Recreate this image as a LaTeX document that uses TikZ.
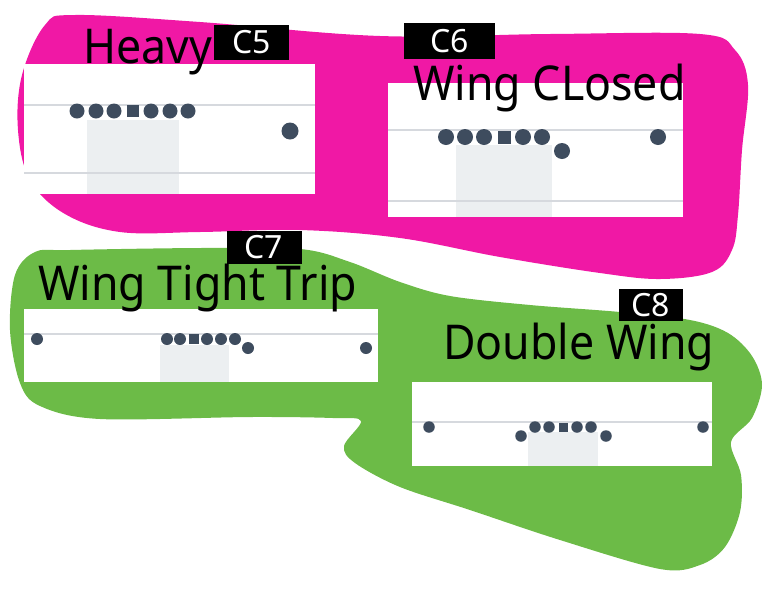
\documentclass[tikz,border=0pt]{standalone}
\usepackage{fontspec}
\setmainfont{Noto Sans}
\newfontfamily\titlefont[FakeStretch=0.93]{Noto Sans}
\definecolor{pinkc}{HTML}{F018A5}
\definecolor{greenc}{HTML}{6CBB47}
\definecolor{dotc}{HTML}{3E4C5E}
\definecolor{linec}{HTML}{D6D9DE}
\definecolor{boxc}{HTML}{ECEFF1}
\tikzset{
  player/.style={circle,fill=dotc,inner sep=0pt,minimum size=#1},
  center/.style={rectangle,fill=dotc,inner sep=0pt,minimum size=#1},
  title/.style={anchor=base west,inner sep=0pt,font=\titlefont\fontsize{48}{50}\selectfont},
  tag/.style={fill=black,text=white,inner sep=0pt,font=\fontsize{32}{34}\selectfont},
  yard/.style={draw=linec,line width=2pt}
}
\begin{document}
\begin{tikzpicture}[x=1pt,y=-1pt]
\useasboundingbox (0,0) rectangle (770,595);

% pink and green areas
\fill [pinkc] plot [smooth cycle,tension=0.6] coordinates {(75,15) (200,22) (380,36) (550,34) (700,34) (735,50) (748,85) (742,150) (738,215) (732,250) (712,272) (660,279) (600,273) (500,257) (400,238) (300,230) (200,232) (120,232) (65,214) (30,180) (18,130) (22,75) (45,25)};
\fill [greenc] plot [smooth cycle,tension=0.55] coordinates {(35,252) (70,250) (200,248) (300,249) (350,262) (400,282) (450,296) (530,305) (620,312) (690,320) (728,333) (752,356) (762,385) (752,418) (731,442) (741,475) (740,512) (725,547) (700,565) (660,569) (560,540) (470,510) (400,487) (355,463) (344,446) (361,421) (333,418) (250,417) (100,419) (40,406) (20,383) (10,330) (15,275)};

% Heavy
\fill [white] (24,64) rectangle (315,194);
\fill [boxc] (87,120) rectangle (179,194);
\draw [yard] (24,105) -- (315,105);
\draw [yard] (24,173) -- (315,173);
\foreach \x [count=\i] in {77,96,114,151,170,188}
  \node [player=15pt] (h\i) at (\x,111) {};
\node [center=12pt] (hc) at (133,111) {};
\node [player=17pt] (hr) at (290,131) {};
\node [title] (heavy) at (83,63) {Heavy};
\node [tag,minimum width=75pt,minimum height=35pt] (c5) at (251.5,42.5) {C5};

% Wing CLosed
\fill [white] (388,83) rectangle (683,217);
\fill [boxc] (456,145) rectangle (552,217);
\draw [yard] (388,130) -- (683,130);
\draw [yard] (388,201) -- (683,201);
\foreach \x [count=\i] in {446,465,484,523,542}
  \node [player=16pt] (w\i) at (\x,137) {};
\node [center=13pt] (wc) at (504,137) {};
\node [player=16pt] (wt) at (562,151) {};
\node [player=16pt] (wr) at (658,137) {};
\node [title] (closed) at (413,100) {Wing CLosed};
\node [tag,minimum width=91pt,minimum height=36pt] (c6) at (449.5,41) {C6\hspace{10pt}};

% Wing Tight Trip
\fill [white] (24,309) rectangle (378,382);
\fill [boxc] (160,345) rectangle (229,382);
\draw [yard] (24,334) -- (378,334);
\foreach \x [count=\i] in {167,180,207,221,235}
  \node [player=12pt] (t\i) at (\x,339) {};
\node [center=10pt] (tc) at (194,339) {};
\node [player=12pt] (tl) at (37,339) {};
\node [player=12pt] (tt) at (248,348) {};
\node [player=12pt] (tr) at (366,348) {};
\node [title] (tight) at (38,300) {Wing Tight Trip};
\node [tag,minimum width=75pt,minimum height=33pt] (c7) at (264,247) {C7};

% Double Wing
\fill [white] (412,382) rectangle (712,466);
\fill [boxc] (528,432) rectangle (598,466);
\draw [yard] (412,422) -- (712,422);
\foreach \x [count=\i] in {535,549,577,591}
  \node [player=11.5pt] (d\i) at (\x,427) {};
\node [center=9pt] (dc) at (563,427) {};
\node [player=11.5pt] (dl) at (429,427) {};
\node [player=11.5pt] (dtl) at (521,436) {};
\node [player=11.5pt] (dtr) at (606,436) {};
\node [player=11.5pt] (dr) at (703,427) {};
\node [title] (double) at (443,359) {Double Wing};
\node [tag,minimum width=64pt,minimum height=32pt] (c8) at (651,305) {C8};
\end{tikzpicture}
\end{document}
